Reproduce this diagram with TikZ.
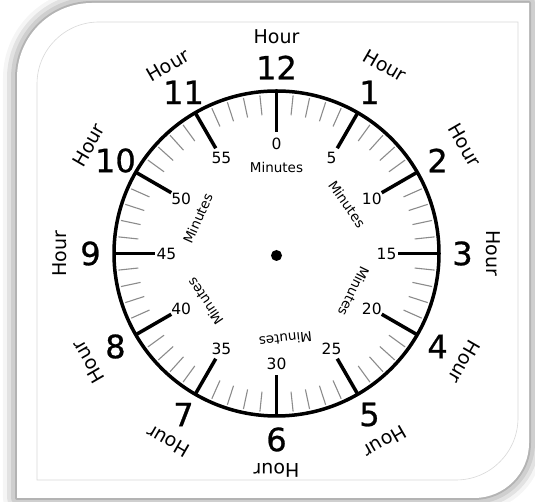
\documentclass[tikz,border=0pt]{standalone}
\usepackage{fontspec}
\setmainfont{DejaVu Sans}
\newfontfamily\numfont[FakeBold=0.8]{DejaVu Sans}
\usetikzlibrary{calc,shadows.blur}

\begin{document}
\begin{tikzpicture}[x=1pt,y=1pt,
  hourtick/.style={line width=3.5pt},
  mintick/.style={line width=1.1pt, black!45},
  hournum/.style={font=\numfont\fontsize{32}{36}\selectfont, inner sep=0pt},
  hourword/.style={font=\fontsize{19}{21}\selectfont, inner sep=0pt},
  minnum/.style={font=\fontsize{15.5}{18}\selectfont, inner sep=0pt},
  minword/.style={font=\fontsize{13.5}{16}\selectfont, inner sep=0pt}]
\useasboundingbox (0,0) rectangle (535,502);

% card
\fill[white, blur shadow={shadow xshift=0pt, shadow yshift=0pt, shadow blur radius=14pt, shadow opacity=60}]
  (17,4) -- (17,424) arc[start angle=180, end angle=90, radius=75] -- (529,499)
  -- (529,59) arc[start angle=0, end angle=-90, radius=55] -- cycle;
\draw[black!15, line width=0.6pt]
  (37,22) -- (37,418) arc[start angle=180, end angle=90, radius=62] -- (518,480)
  -- (518,84) arc[start angle=0, end angle=-90, radius=62] -- cycle;

\coordinate (C) at (276.5,248.5);

% ticks
\foreach \m in {0,...,59}{
  \pgfmathtruncatemacro\r{mod(\m,5)}
  \ifnum\r=0
    \draw[hourtick] ($(C)+({90-6*\m}:162.5)$) -- ($(C)+({90-6*\m}:121.5)$);
  \else
    \draw[mintick] ($(C)+({90-6*\m}:159)$) -- ($(C)+({90-6*\m}:139)$);
  \fi
}
\draw[line width=3.5pt] (C) circle[radius=162.5];
\fill ($(C)+(0,-2)$) circle[radius=5.5];

% hours
\foreach \h in {1,...,12}{
  \node[hournum] (h\h) at ($(C)+({90-30*\h}:186)$) {\h};
  \node[hourword, rotate=-30*\h] (w\h) at ($(C)+({90-30*\h}:217)$) {Hour};
}

% minutes
\foreach \m in {0,5,...,55}
  \node[minnum] (m\m) at ($(C)+({90-6*\m}:110)$) {\m};
\foreach \a [count=\i] in {0,55,116,174,236,294}
  \node[minword, rotate=-\a] (mw\i) at ($(C)+({90-\a}:86)$) {Minutes};

\end{tikzpicture}
\end{document}
